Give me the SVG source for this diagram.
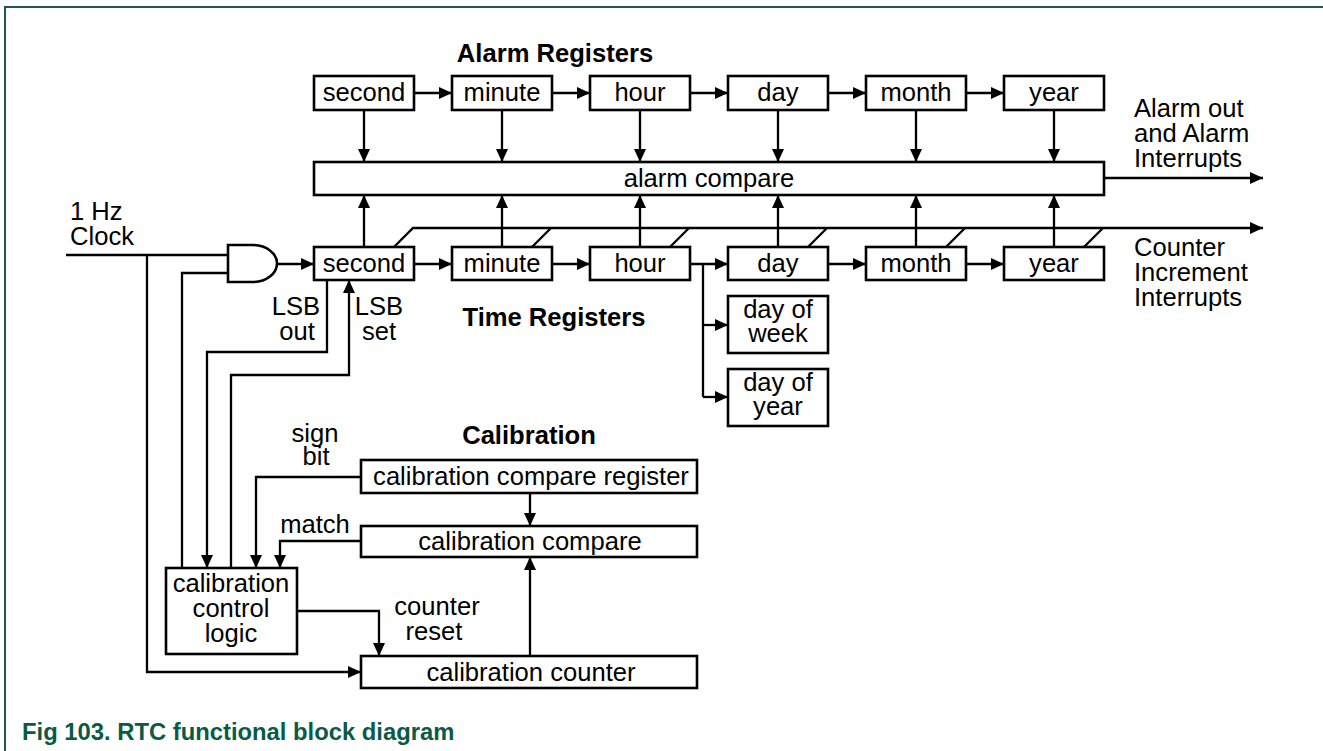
<svg xmlns="http://www.w3.org/2000/svg" width="1323" height="751" viewBox="0 0 1323 751">
<style>
text{font-family:"Liberation Sans",Arial,sans-serif;font-size:25.6px;fill:#000}
.c{text-anchor:middle}
.b{font-weight:bold}
.box{fill:#fff;stroke:#000;stroke-width:2.6}
.ln{fill:none;stroke:#000;stroke-width:2.3}
.cap{fill:#0a5a46;font-weight:bold;font-size:23.8px}
</style>
<defs>
<marker id="ah" markerUnits="userSpaceOnUse" markerWidth="13" markerHeight="12" refX="13" refY="6" orient="auto">
<path d="M0,0 L13,6 L0,12 z" fill="#000"/>
</marker>
</defs>
<rect width="1323" height="751" fill="#fff"/>
<path d="M5,751 V7 H1323" fill="none" stroke="#1e5a4a" stroke-width="2"/>

<g id="connectors">
<path class="ln" marker-end="url(#ah)" d="M414,93 H452"/>
<path class="ln" marker-end="url(#ah)" d="M552,93 H590"/>
<path class="ln" marker-end="url(#ah)" d="M690,93 H728"/>
<path class="ln" marker-end="url(#ah)" d="M828,93 H866"/>
<path class="ln" marker-end="url(#ah)" d="M966,93 H1004"/>
<path class="ln" marker-end="url(#ah)" d="M364,110 V162"/>
<path class="ln" marker-end="url(#ah)" d="M502,110 V162"/>
<path class="ln" marker-end="url(#ah)" d="M640,110 V162"/>
<path class="ln" marker-end="url(#ah)" d="M778,110 V162"/>
<path class="ln" marker-end="url(#ah)" d="M916,110 V162"/>
<path class="ln" marker-end="url(#ah)" d="M1054,110 V162"/>
<path class="ln" marker-end="url(#ah)" d="M364,247 V195"/>
<path class="ln" marker-end="url(#ah)" d="M502,247 V195"/>
<path class="ln" marker-end="url(#ah)" d="M640,247 V195"/>
<path class="ln" marker-end="url(#ah)" d="M778,247 V195"/>
<path class="ln" marker-end="url(#ah)" d="M916,247 V195"/>
<path class="ln" marker-end="url(#ah)" d="M1054,247 V195"/>
<path class="ln" marker-end="url(#ah)" d="M1104,178 H1263"/>
<path class="ln" marker-end="url(#ah)" d="M394,247 L413,228 H1263"/>
<path class="ln" d="M532,247 L551,228 M670,247 L689,228 M808,247 L827,228 M946,247 L965,228 M1084,247 L1103,228"/>
<path class="ln" marker-end="url(#ah)" d="M277,264 H314"/>
<path class="ln" marker-end="url(#ah)" d="M414,264 H452"/>
<path class="ln" marker-end="url(#ah)" d="M552,264 H590"/>
<path class="ln" marker-end="url(#ah)" d="M690,264 H728"/>
<path class="ln" marker-end="url(#ah)" d="M828,264 H866"/>
<path class="ln" marker-end="url(#ah)" d="M966,264 H1004"/>
<path class="ln" d="M703,264 V397"/>
<path class="ln" marker-end="url(#ah)" d="M703,325 H728"/>
<path class="ln" marker-end="url(#ah)" d="M703,397 H728"/>
<path class="ln" d="M66,255 H228"/>
<path class="ln" marker-end="url(#ah)" d="M147,255 V672 H361"/>
<path class="ln" d="M182,568 V273 H228"/>
<path class="ln" marker-end="url(#ah)" d="M327,280 V352 H207 V568"/>
<path class="ln" marker-end="url(#ah)" d="M231,568 V375 H349 V280"/>
<path class="ln" marker-end="url(#ah)" d="M361,477 H256 V568"/>
<path class="ln" marker-end="url(#ah)" d="M361,541 H280 V568"/>
<path class="ln" marker-end="url(#ah)" d="M297,611 H379 V656"/>
<path class="ln" marker-end="url(#ah)" d="M530,493 V526"/>
<path class="ln" marker-end="url(#ah)" d="M530,656 V557"/>
</g>

<g id="and-gate"><path class="box" d="M228,245 H253 A24,18.5 0 0 1 253,282 H228 Z"/></g>

<g id="alarm-second"><rect class="box" x="314" y="76" width="100" height="34"/><text class="c" x="364" y="101">second</text></g>
<g id="alarm-minute"><rect class="box" x="452" y="76" width="100" height="34"/><text class="c" x="502" y="101">minute</text></g>
<g id="alarm-hour"><rect class="box" x="590" y="76" width="100" height="34"/><text class="c" x="640" y="101">hour</text></g>
<g id="alarm-day"><rect class="box" x="728" y="76" width="100" height="34"/><text class="c" x="778" y="101">day</text></g>
<g id="alarm-month"><rect class="box" x="866" y="76" width="100" height="34"/><text class="c" x="916" y="101">month</text></g>
<g id="alarm-year"><rect class="box" x="1004" y="76" width="100" height="34"/><text class="c" x="1054" y="101">year</text></g>
<g id="alarm-compare"><rect class="box" x="314" y="162" width="790" height="33"/><text class="c" x="709" y="187">alarm compare</text></g>

<g id="time-second"><rect class="box" x="314" y="247" width="100" height="33"/><text class="c" x="364" y="272">second</text></g>
<g id="time-minute"><rect class="box" x="452" y="247" width="100" height="33"/><text class="c" x="502" y="272">minute</text></g>
<g id="time-hour"><rect class="box" x="590" y="247" width="100" height="33"/><text class="c" x="640" y="272">hour</text></g>
<g id="time-day"><rect class="box" x="728" y="247" width="100" height="33"/><text class="c" x="778" y="272">day</text></g>
<g id="time-month"><rect class="box" x="866" y="247" width="100" height="33"/><text class="c" x="916" y="272">month</text></g>
<g id="time-year"><rect class="box" x="1004" y="247" width="100" height="33"/><text class="c" x="1054" y="272">year</text></g>
<g id="day-of-week"><rect class="box" x="728" y="296" width="100" height="57"/><text class="c" x="778" y="318">day of</text><text class="c" x="778" y="342">week</text></g>
<g id="day-of-year"><rect class="box" x="728" y="369" width="100" height="57"/><text class="c" x="778" y="391">day of</text><text class="c" x="778" y="415">year</text></g>

<g id="cal-register"><rect class="box" x="361" y="460" width="336" height="33"/><text class="c" x="531" y="485">calibration compare register</text></g>
<g id="cal-compare"><rect class="box" x="361" y="526" width="336" height="31"/><text class="c" x="530" y="550">calibration compare</text></g>
<g id="cal-counter"><rect class="box" x="361" y="656" width="336" height="32"/><text class="c" x="531" y="681">calibration counter</text></g>
<g id="cal-control"><rect class="box" x="166" y="568" width="131" height="86"/><text class="c" x="231" y="592">calibration</text><text class="c" x="231" y="617">control</text><text class="c" x="231" y="642">logic</text></g>

<g id="labels">
<text class="b c" x="555" y="62">Alarm Registers</text>
<text class="b c" x="554" y="326">Time Registers</text>
<text class="b c" x="529" y="444">Calibration</text>
<text x="1134" y="117">Alarm out</text>
<text x="1134" y="142">and Alarm</text>
<text x="1134" y="167">Interrupts</text>
<text x="1134" y="256">Counter</text>
<text x="1134" y="281">Increment</text>
<text x="1134" y="306">Interrupts</text>
<text x="70" y="220">1 Hz</text>
<text x="70" y="245">Clock</text>
<text class="c" x="296" y="315">LSB</text>
<text class="c" x="297" y="340">out</text>
<text class="c" x="379" y="315">LSB</text>
<text class="c" x="379" y="340">set</text>
<text class="c" x="315" y="442">sign</text>
<text class="c" x="316" y="465">bit</text>
<text class="c" x="315" y="533">match</text>
<text class="c" x="437" y="615">counter</text>
<text class="c" x="434" y="640">reset</text>
<text class="cap" x="22" y="740">Fig 103. RTC functional block diagram</text>
</g>
</svg>
